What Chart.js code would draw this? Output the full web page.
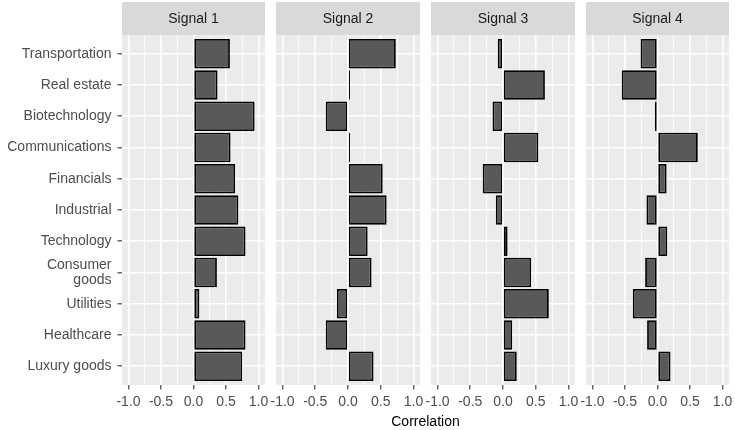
<!DOCTYPE html>
<html><head><meta charset="utf-8">
<script src="https://cdn.jsdelivr.net/npm/chart.js@4.4.1/dist/chart.umd.min.js"></script>
<style>
html,body{margin:0;padding:0;background:#fff;}
#wrap{position:relative;width:735px;height:430px;overflow:hidden;background:#fff;}
#wrap canvas{position:absolute;top:0;}
#xtitle{position:absolute;left:325.5px;width:200px;top:413px;height:17px;line-height:17px;text-align:center;font-family:'Liberation Sans',Arial,sans-serif;font-size:14px;color:#000;}
</style></head><body>
<div id="wrap">
<canvas id="c0"></canvas><canvas id="c1"></canvas><canvas id="c2"></canvas><canvas id="c3"></canvas>
<div id="xtitle">Correlation</div>
</div>
<script>
// ---- data ----
const categories = ['Transportation','Real estate','Biotechnology','Communications','Financials','Industrial','Technology','Consumer\ngoods','Utilities','Healthcare','Luxury goods'];
const signalNames = ['Signal 1','Signal 2','Signal 3','Signal 4'];
const signal1 = [0.56, 0.37, 0.94, 0.57, 0.64, 0.69, 0.80, 0.36, 0.09, 0.80, 0.75];
const signal2 = [0.73, 0.03, -0.34, 0.03, 0.53, 0.59, 0.30, 0.36, -0.17, -0.34, 0.39];
const signal3 = [-0.08, 0.64, -0.16, 0.54, -0.31, -0.11, 0.07, 0.43, 0.70, 0.14, 0.21];
const signal4 = [-0.26, -0.55, -0.04, 0.62, 0.14, -0.17, 0.15, -0.19, -0.38, -0.16, 0.20];
const xTickValues = [-1, -0.5, 0, 0.5, 1];
const xTickLabels = ['-1.0', '-0.5', '0.0', '0.5', '1.0'];
const xMinorValues = [-0.75, -0.25, 0.25, 0.75];
const series = [signal1, signal2, signal3, signal4];

// ---- layout ----
const FONT = "'Liberation Sans', Arial, sans-serif";
Chart.defaults.font.family = FONT;
const panelLeft = [122, 276, 431, 586];
const panelRight = [265, 420, 575, 729];
const M = 16;
const H = 430;

const bgPlugin = {
  id: 'panelBg',
  beforeDraw(chart) {
    const {ctx, chartArea: a} = chart;
    ctx.save();
    ctx.fillStyle = '#D9D9D9';
    ctx.fillRect(a.left, 2, a.right - a.left, a.top - 2);
    ctx.fillStyle = '#EBEBEB';
    ctx.fillRect(a.left, a.top, a.right - a.left, a.bottom - a.top);
    ctx.restore();
  }
};

const isMajor = v => xTickValues.indexOf(v) >= 0;

series.forEach((vals, i) => {
  const first = i === 0;
  const cv = document.getElementById('c' + i);
  const left = first ? 0 : panelLeft[i] - M;
  const width = first ? panelRight[i] + M : (panelRight[i] - panelLeft[i]) + 2 * M;
  cv.width = width; cv.height = H;
  cv.style.left = left + 'px';
  cv.style.width = width + 'px'; cv.style.height = H + 'px';

  new Chart(cv, {
    type: 'bar',
    data: {
      datasets: [{
        data: vals.map((v, k) => ({x: v, y: k + 1})),
        backgroundColor: '#595959',
        borderColor: '#000000',
        borderWidth: 1.8,
        borderSkipped: false,
        categoryPercentage: 0.94,
        barPercentage: 1.0
      }]
    },
    options: {
      indexAxis: 'y',
      responsive: false,
      animation: false,
      devicePixelRatio: 1,
      layout: {padding: {top: 2, bottom: 0, left: first ? 0 : M, right: M}},
      plugins: {
        legend: {display: false},
        tooltip: {enabled: false},
        title: {
          display: true, text: signalNames[i], fullSize: false,
          color: '#1A1A1A', font: {family: FONT, size: 14, weight: 'normal'},
          padding: {top: 9, bottom: 7.2}
        }
      },
      scales: {
        x: {
          type: 'linear', min: -1.1, max: 1.1, offset: false,
          afterBuildTicks: s => { s.ticks = xTickValues.concat(xMinorValues).sort((a, b) => a - b).map(v => ({value: v})); },
          afterFit: s => { s.height = 45; s.paddingLeft = 0; s.paddingRight = 0; },
          border: {display: false},
          grid: {
            offset: false,
            color: '#FFFFFF',
            lineWidth: c => (c.tick && isMajor(c.tick.value)) ? 1.6 : 0.8,
            drawTicks: true, tickLength: 4.5, tickWidth: 1.1,
            tickColor: c => (c.tick && isMajor(c.tick.value)) ? '#333333' : 'rgba(0,0,0,0)'
          },
          ticks: {
            autoSkip: false, maxRotation: 0, minRotation: 0, padding: 4,
            color: '#4D4D4D', font: {family: FONT, size: 14},
            callback: v => { const k = xTickValues.indexOf(v); return k >= 0 ? xTickLabels[k] : ''; }
          }
        },
        y: {
          type: 'linear', min: 0.4, max: categories.length + 0.6, reverse: true, offset: false,
          afterBuildTicks: s => { s.ticks = categories.map((c, k) => ({value: k + 1})); },
          afterFit: s => { s.width = first ? 122 : 0; s.paddingTop = 0; s.paddingBottom = 0; },
          border: {display: false},
          grid: {
            offset: false,
            color: '#FFFFFF', lineWidth: 1.6,
            drawTicks: first, tickLength: 4.5, tickWidth: 1.1, tickColor: '#333333'
          },
          ticks: {
            display: first, autoSkip: false, padding: 6,
            color: '#4D4D4D', font: {family: FONT, size: 14, lineHeight: 1.07},
            callback: v => { const c = categories[Math.round(v) - 1]; return c ? c.split('\n') : ''; }
          }
        }
      }
    },
    plugins: [bgPlugin]
  });
});
</script>
</body></html>
